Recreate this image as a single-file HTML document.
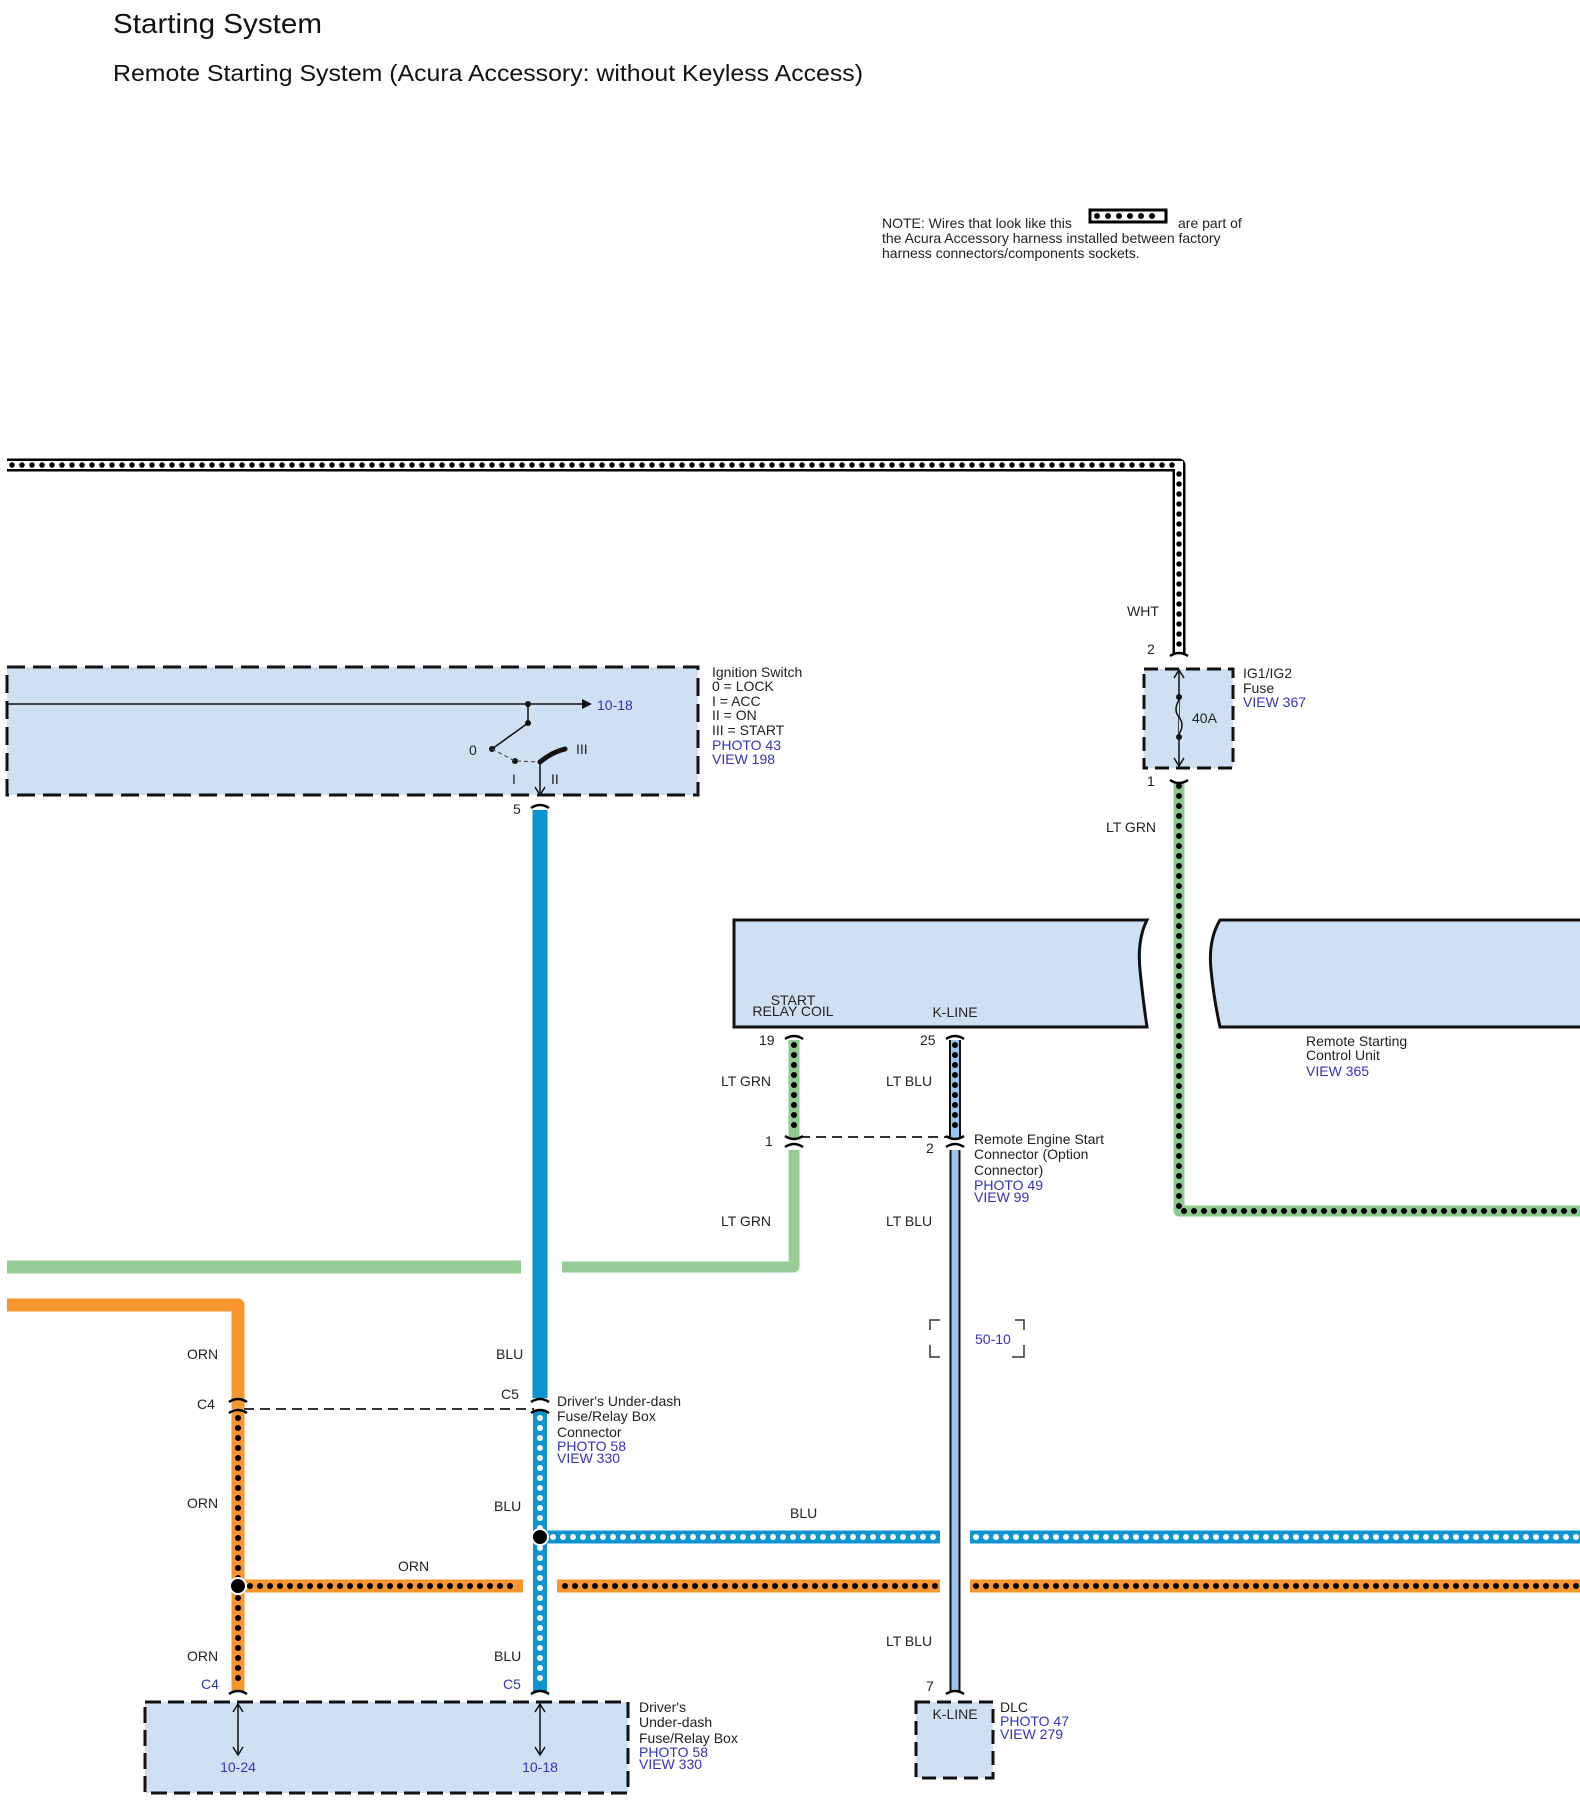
<!DOCTYPE html>
<html><head><meta charset="utf-8"><style>
html,body{margin:0;padding:0;background:#fff;}
svg{display:block;font-family:"Liberation Sans",Arial,sans-serif;}
.t{font-size:14px;fill:#222;}
.b{font-size:14px;fill:#3333bb;}
</style></head><body>
<svg width="1580" height="1808" viewBox="0 0 1580 1808" xmlns="http://www.w3.org/2000/svg">
<text x="113" y="33" font-size="28" fill="#111" textLength="209" lengthAdjust="spacingAndGlyphs">Starting System</text>
<text x="113" y="81" font-size="23" fill="#111" textLength="750" lengthAdjust="spacingAndGlyphs">Remote Starting System (Acura Accessory: without Keyless Access)</text>

<!-- note -->
<text x="882" y="228" class="t" font-size="13.5">NOTE: Wires that look like this</text>
<rect x="1090" y="210" width="76" height="12" fill="#fff" stroke="#000" stroke-width="3"/>
<line x1="1097" y1="216" x2="1160" y2="216" stroke="#000" stroke-width="6" stroke-linecap="round" stroke-dasharray="0 11"/>
<text x="1178" y="228" class="t" font-size="13.5">are part of</text>
<text x="882" y="243" class="t" font-size="13.5">the Acura Accessory harness installed between factory</text>
<text x="882" y="258" class="t" font-size="13.5">harness connectors/components sockets.</text>

<!-- boxes -->
<rect x="7" y="667" width="691" height="128" fill="#cfe0f3" stroke="#111" stroke-width="3" stroke-dasharray="18 8"/>
<rect x="1144" y="669" width="89" height="99" fill="#cfe0f3" stroke="#111" stroke-width="3" stroke-dasharray="14 7"/>
<path d="M734 920 H1147 q-10 20 -7 50 q3 30 7 57 H734 Z" fill="#cfe0f3" stroke="#111" stroke-width="3"/>
<path d="M1580 920 H1220 q-12 20 -9 50 q3 30 9 57 H1580" fill="#cfe0f3" stroke="#111" stroke-width="3"/>
<rect x="145" y="1702" width="483" height="91" fill="#cfe0f3" stroke="#111" stroke-width="3" stroke-dasharray="16 7"/>
<rect x="916" y="1702" width="77" height="76" fill="#cfe0f3" stroke="#111" stroke-width="3" stroke-dasharray="14 7"/>

<!-- top WHT harness -->
<path d="M7 465 H1179 V654" fill="none" stroke="#000" stroke-width="13" stroke-linejoin="round"/>
<path d="M7 465 H1179 V654" fill="none" stroke="#fff" stroke-width="8"/>
<path d="M12 465 H1174" fill="none" stroke="#000" stroke-width="5.5" stroke-linecap="round" stroke-dasharray="0 10"/>
<path d="M1179 474 V650" fill="none" stroke="#000" stroke-width="5.5" stroke-linecap="round" stroke-dasharray="0 10"/>

<!-- LT GRN dotted from fuse -->
<path d="M1179 782 V1211 H1580" fill="none" stroke="#8fc98f" stroke-width="11" stroke-linejoin="round"/>
<path d="M1179 786 V1211 H1580" fill="none" stroke="#000" stroke-width="6" stroke-linecap="round" stroke-dasharray="0 10"/>

<!-- BLU solid -->
<line x1="540" y1="810" x2="540" y2="1398" stroke="#0d93d0" stroke-width="15"/>
<!-- green horizontal -->
<path d="M7 1267 H521" stroke="#96cc96" stroke-width="13" fill="none"/>
<path d="M562 1267 H794 V1150" stroke="#96cc96" stroke-width="11" fill="none" stroke-linejoin="round"/>
<!-- green dotted stub -->
<line x1="794" y1="1040" x2="794" y2="1138" stroke="#8fc98f" stroke-width="11"/>
<line x1="794" y1="1045" x2="794" y2="1134" stroke="#000" stroke-width="6" stroke-linecap="round" stroke-dasharray="0 10"/>
<!-- LT BLU -->
<line x1="955" y1="1040" x2="955" y2="1138" stroke="#111" stroke-width="12"/>
<line x1="955" y1="1040" x2="955" y2="1138" stroke="#9cc2ee" stroke-width="8"/>
<line x1="955" y1="1045" x2="955" y2="1134" stroke="#000" stroke-width="6" stroke-linecap="round" stroke-dasharray="0 10"/>
<line x1="955" y1="1150" x2="955" y2="1692" stroke="#111" stroke-width="11"/>
<line x1="955" y1="1150" x2="955" y2="1692" stroke="#9cc2ee" stroke-width="7"/>

<!-- orange -->
<path d="M7 1305 H238 V1409" stroke="#f7962e" stroke-width="13" fill="none" stroke-linejoin="round"/>
<line x1="238" y1="1410" x2="238" y2="1692" stroke="#f7962e" stroke-width="13"/>
<line x1="238" y1="1418" x2="238" y2="1688" stroke="#000" stroke-width="6" stroke-linecap="round" stroke-dasharray="0 10"/>
<!-- BLU dotted vertical -->
<line x1="540" y1="1410" x2="540" y2="1692" stroke="#0d93d0" stroke-width="14"/>
<line x1="540" y1="1418" x2="540" y2="1688" stroke="#fff" stroke-width="6" stroke-linecap="round" stroke-dasharray="0 10"/>
<!-- BLU dotted horizontal -->
<path d="M540 1537 H940 M970 1537 H1580" stroke="#0d93d0" stroke-width="13"/>
<path d="M553 1537 H936 M976 1537 H1578" stroke="#fff" stroke-width="6" stroke-linecap="round" stroke-dasharray="0 10"/>
<!-- ORN dotted horizontal -->
<path d="M238 1586 H523 M557 1586 H940 M970 1586 H1580" stroke="#f7962e" stroke-width="13"/>
<path d="M250 1586 H520 M565 1586 H936 M976 1586 H1578" stroke="#000" stroke-width="6" stroke-linecap="round" stroke-dasharray="0 10"/>
<!-- junction dots -->
<circle cx="540" cy="1537" r="8" fill="#000" stroke="#fff" stroke-width="2"/>
<circle cx="238" cy="1586" r="8" fill="#000" stroke="#fff" stroke-width="2"/>

<!-- dashed connector lines -->
<line x1="800" y1="1137" x2="950" y2="1137" stroke="#333" stroke-width="2" stroke-dasharray="10 6"/>
<line x1="244" y1="1409" x2="534" y2="1409" stroke="#333" stroke-width="2" stroke-dasharray="10 6"/>
<!-- 50-10 bracket -->
<path d="M930 1330 V1320 H940 M1015 1320 H1024 V1330 M930 1345 V1357 H940 M1012 1357 H1024 V1345" fill="none" stroke="#333" stroke-width="1.5"/>
<text x="975" y="1344" class="b">50-10</text>

<!-- connector caps -->
<g fill="none" stroke="#000" stroke-width="2.5">
<path d="M1170 656 q9 -6 18 0"/><path d="M1170 780 q9 6 18 0"/>
<path d="M531 808 q9 -6 18 0"/>
<path d="M785 1039 q9 -6 18 0"/><path d="M946 1039 q9 -6 18 0"/>
<path d="M785 1136 q9 6 18 0"/><path d="M785 1147 q9 -6 18 0"/>
<path d="M946 1136 q9 6 18 0"/><path d="M946 1147 q9 -6 18 0"/>
<path d="M229 1402 q9 -6 18 0"/><path d="M229 1413 q9 -6 18 0"/>
<path d="M531 1402 q9 -6 18 0"/><path d="M531 1413 q9 -6 18 0"/>
<path d="M229 1694 q9 -6 18 0"/><path d="M531 1694 q9 -6 18 0"/><path d="M946 1694 q9 -6 18 0"/>
</g>

<!-- ignition switch internals -->
<line x1="7" y1="704" x2="585" y2="704" stroke="#111" stroke-width="1.5"/>
<polygon points="582,699 592,704 582,709" fill="#111"/>
<text x="597" y="710" class="b">10-18</text>
<line x1="528" y1="704" x2="528" y2="723" stroke="#111" stroke-width="1.5"/>
<line x1="528" y1="723" x2="492" y2="749" stroke="#111" stroke-width="1.5"/>
<circle cx="528" cy="704" r="3" fill="#111"/><circle cx="528" cy="723" r="3" fill="#111"/>
<circle cx="492" cy="749" r="3" fill="#111"/><circle cx="515" cy="761" r="3" fill="#111"/>
<path d="M492 749 L515 761 L540 762" fill="none" stroke="#555" stroke-width="1.2" stroke-dasharray="4 3"/>
<path d="M540 762 q12 -10 25 -13" fill="none" stroke="#111" stroke-width="5" stroke-linecap="round"/>
<line x1="540" y1="762" x2="540" y2="793" stroke="#111" stroke-width="1.5"/>
<path d="M535 787 L540 795 L545 787" fill="none" stroke="#111" stroke-width="1.5"/>
<text x="469" y="755" class="t">0</text><text x="576" y="754" class="t">III</text>
<text x="512" y="784" class="t">I</text><text x="551" y="784" class="t">II</text>
<text x="712" y="677" class="t">Ignition Switch</text>
<text x="712" y="691" class="t">0 = LOCK</text>
<text x="712" y="706" class="t">I = ACC</text>
<text x="712" y="720" class="t">II = ON</text>
<text x="712" y="735" class="t">III = START</text>
<text x="712" y="750" class="b" font-size="13">PHOTO 43</text>
<text x="712" y="764" class="b" font-size="13">VIEW 198</text>
<text x="513" y="814" class="t">5</text>

<!-- fuse internals -->
<line x1="1179" y1="670" x2="1179" y2="766" stroke="#111" stroke-width="1.5"/>
<path d="M1174 678 L1179 670 L1184 678 M1174 758 L1179 766 L1184 758" fill="none" stroke="#111" stroke-width="1.5"/>
<circle cx="1179" cy="697" r="3" fill="#111"/><circle cx="1179" cy="737" r="3" fill="#111"/>
<path d="M1179 700 q-6 10 0 17 q6 8 0 17" fill="#cfe0f3" stroke="#111" stroke-width="1.5"/>
<text x="1192" y="723" class="t">40A</text>
<text x="1243" y="678" class="t">IG1/IG2</text>
<text x="1243" y="693" class="t">Fuse</text>
<text x="1243" y="707" class="b" font-size="13">VIEW 367</text>
<text x="1127" y="616" class="t">WHT</text>
<text x="1147" y="654" class="t">2</text>
<text x="1147" y="786" class="t">1</text>
<text x="1106" y="832" class="t">LT GRN</text>

<!-- remote unit labels -->
<text x="793" y="1005" class="t" font-size="12" text-anchor="middle">START</text>
<text x="793" y="1016" class="t" font-size="12" text-anchor="middle">RELAY COIL</text>
<text x="955" y="1017" class="t" font-size="12" text-anchor="middle">K-LINE</text>
<text x="1306" y="1046" class="t">Remote Starting</text>
<text x="1306" y="1060" class="t">Control Unit</text>
<text x="1306" y="1076" class="b" font-size="13">VIEW 365</text>
<text x="759" y="1045" class="t">19</text>
<text x="920" y="1045" class="t">25</text>
<text x="721" y="1086" class="t">LT GRN</text>
<text x="886" y="1086" class="t">LT BLU</text>
<text x="765" y="1146" class="t">1</text>
<text x="926" y="1153" class="t">2</text>
<text x="974" y="1144" class="t">Remote Engine Start</text>
<text x="974" y="1159" class="t">Connector (Option</text>
<text x="974" y="1175" class="t">Connector)</text>
<text x="974" y="1190" class="b" font-size="13">PHOTO 49</text>
<text x="974" y="1202" class="b" font-size="13">VIEW 99</text>
<text x="721" y="1226" class="t">LT GRN</text>
<text x="886" y="1226" class="t">LT BLU</text>

<!-- lower labels -->
<text x="187" y="1359" class="t">ORN</text>
<text x="496" y="1359" class="t">BLU</text>
<text x="197" y="1409" class="t">C4</text>
<text x="501" y="1399" class="t">C5</text>
<text x="557" y="1406" class="t">Driver's Under-dash</text>
<text x="557" y="1421" class="t">Fuse/Relay Box</text>
<text x="557" y="1437" class="t">Connector</text>
<text x="557" y="1451" class="b" font-size="13">PHOTO 58</text>
<text x="557" y="1463" class="b" font-size="13">VIEW 330</text>
<text x="187" y="1508" class="t">ORN</text>
<text x="494" y="1511" class="t">BLU</text>
<text x="790" y="1518" class="t">BLU</text>
<text x="398" y="1571" class="t">ORN</text>
<text x="886" y="1646" class="t">LT BLU</text>
<text x="187" y="1661" class="t">ORN</text>
<text x="494" y="1661" class="t">BLU</text>
<text x="201" y="1689" class="b">C4</text>
<text x="503" y="1689" class="b">C5</text>
<text x="926" y="1691" class="t">7</text>

<!-- bottom box -->
<line x1="238" y1="1704" x2="238" y2="1755" stroke="#111" stroke-width="1.5"/>
<line x1="540" y1="1704" x2="540" y2="1755" stroke="#111" stroke-width="1.5"/>
<path d="M233 1712 L238 1704 L243 1712 M233 1747 L238 1755 L243 1747 M535 1712 L540 1704 L545 1712 M535 1747 L540 1755 L545 1747" fill="none" stroke="#111" stroke-width="1.5"/>
<text x="238" y="1772" class="b" text-anchor="middle">10-24</text>
<text x="540" y="1772" class="b" text-anchor="middle">10-18</text>
<text x="639" y="1712" class="t">Driver's</text>
<text x="639" y="1727" class="t">Under-dash</text>
<text x="639" y="1743" class="t">Fuse/Relay Box</text>
<text x="639" y="1757" class="b" font-size="13">PHOTO 58</text>
<text x="639" y="1769" class="b" font-size="13">VIEW 330</text>
<text x="955" y="1719" class="t" font-size="12" text-anchor="middle">K-LINE</text>
<text x="1000" y="1712" class="t">DLC</text>
<text x="1000" y="1726" class="b" font-size="13">PHOTO 47</text>
<text x="1000" y="1739" class="b" font-size="13">VIEW 279</text>
</svg>
</body></html>
